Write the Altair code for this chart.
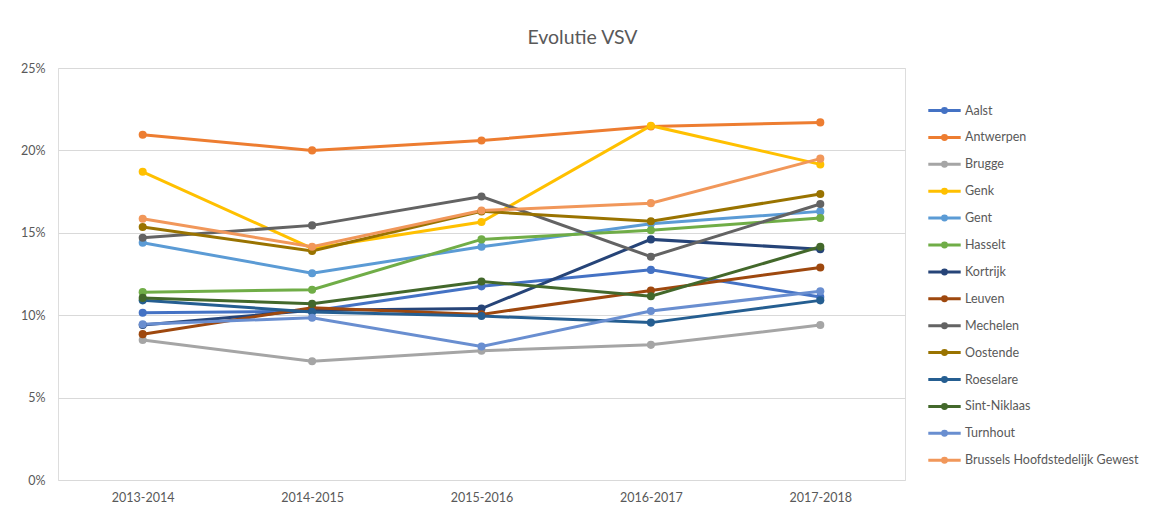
import altair as alt
import pandas as pd

years = ["2013-2014", "2014-2015", "2015-2016", "2016-2017", "2017-2018"]

cities = ["Aalst", "Antwerpen", "Brugge", "Genk", "Gent", "Hasselt", "Kortrijk",
          "Leuven", "Mechelen", "Oostende", "Roeselare", "Sint-Niklaas", "Turnhout",
          "Brussels Hoofdstedelijk Gewest"]

aalst = [10.15, 10.25, 11.75, 12.75, 11.1]
antwerpen = [20.95, 20.0, 20.6, 21.45, 21.7]
brugge = [8.5, 7.2, 7.85, 8.2, 9.4]
genk = [18.7, 14.05, 15.65, 21.5, 19.15]
gent = [14.4, 12.55, 14.15, 15.55, 16.3]
hasselt = [11.4, 11.55, 14.6, 15.15, 15.9]
kortrijk = [9.4, 10.3, 10.4, 14.6, 14.0]
leuven = [8.85, 10.45, 10.05, 11.5, 12.9]
mechelen = [14.7, 15.45, 17.2, 13.55, 16.75]
oostende = [15.35, 13.9, 16.3, 15.7, 17.35]
roeselare = [10.9, 10.2, 9.95, 9.55, 10.9]
sint_niklaas = [11.05, 10.7, 12.05, 11.15, 14.15]
turnhout = [9.45, 9.85, 8.1, 10.25, 11.45]
brussels = [15.85, 14.15, 16.35, 16.8, 19.5]

series = [aalst, antwerpen, brugge, genk, gent, hasselt, kortrijk, leuven,
          mechelen, oostende, roeselare, sint_niklaas, turnhout, brussels]

colors = ["#4472C4", "#ED7D31", "#A5A5A5", "#FFC000", "#5B9BD5", "#70AD47",
          "#264478", "#9E480E", "#636363", "#997300", "#255E91", "#43682B",
          "#698ED0", "#F1975A"]

rows = []
for i, (c, vals) in enumerate(zip(cities, series)):
    for y, v in zip(years, vals):
        rows.append({"Stad": c, "Jaar": y, "VSV": v / 100.0, "order": i})
df = pd.DataFrame(rows)

FONT = "Lato"
GREY = "#595959"

legend_symbol = "M-1.8,0L1.8,0M-0.22,0A0.22,0.22 0 1,0 0.22,0A0.22,0.22 0 1,0 -0.22,0"

base = alt.Chart(df).encode(
    x=alt.X("Jaar:N", sort=years, scale=alt.Scale(type="point", padding=0.5),
            axis=alt.Axis(title=None, labelAngle=0, domain=False, ticks=False,
                          labelColor=GREY, labelFontSize=12.5, labelFont=FONT,
                          labelPadding=11, grid=False)),
    y=alt.Y("VSV:Q", scale=alt.Scale(domain=[0, 0.25], nice=False),
            axis=alt.Axis(title=None, format=".0%", values=[0, 0.05, 0.1, 0.15, 0.2, 0.25],
                          domain=False, ticks=False, labelColor=GREY, labelFontSize=12.5,
                          labelFont=FONT, labelPadding=13, gridColor="#d9d9d9",
                          gridWidth=1)),
    color=alt.Color("Stad:N", sort=cities,
                    scale=alt.Scale(domain=cities, range=colors),
                    legend=alt.Legend(title=None, orient="none", legendX=876, legendY=32,
                                      labelFont=FONT, labelFontSize=12.5, labelColor=GREY,
                                      symbolType=legend_symbol, symbolSize=324,
                                      symbolStrokeWidth=3, rowPadding=7.9,
                                      labelOffset=10, labelLimit=300)),
    detail="Stad:N",
    order="order:Q",
)

lines = base.mark_line(strokeWidth=3)
points = base.mark_point(filled=True, size=65, opacity=1)

chart = alt.layer(lines, points).properties(
    width=847,
    height=412,
    title=alt.TitleParams("Evolutie VSV", font=FONT, fontSize=19.5, fontWeight="normal",
                          color=GREY, anchor="middle", offset=14, dx=101),
    autosize=alt.AutoSizeParams(type="none"),
    padding={"left": 50, "top": 60, "right": 247, "bottom": 23},
).configure_view(stroke=None).configure(background="white")

chart.save("out.html", embed_options={"renderer": "svg", "actions": False})
